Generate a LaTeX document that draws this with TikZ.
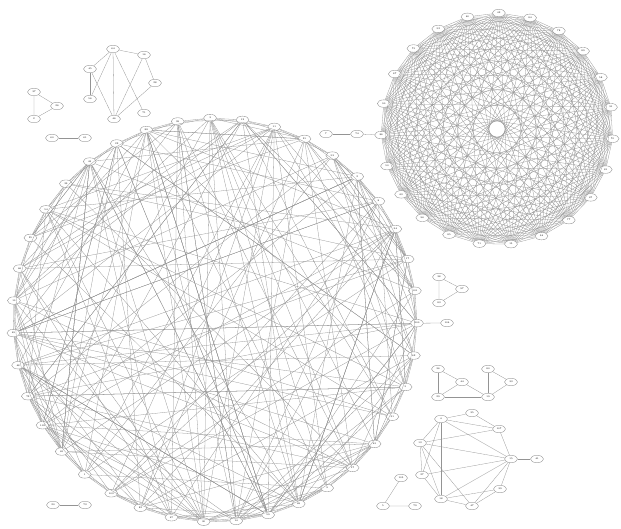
\documentclass[tikz,border=0pt]{standalone}
\usetikzlibrary{shapes.geometric}

\begin{document}
\begin{tikzpicture}[x=1pt,y=-1pt,
  vtx/.style={draw=black!45,fill=white,ellipse,inner sep=0pt,minimum width=13pt,minimum height=7.5pt,line width=0.35pt,font=\fontsize{2.4}{3}\selectfont},
  edge/.style={black!42,line width=0.28pt}]
  \useasboundingbox (0,0) rectangle (621,529);
  % big ring
  \foreach \lab [count=\k from 0] in {3,12,11,21,53,2,8,34,17,101,100,62,5,31,45,57,9,69,59,14,30,47,82,103,1,65,102,72,48,49,10,66,25,54,39,43,22,88,99}
    \node[vtx] (b\k) at ({215+202*cos(91.4-360/39*\k)},{320-202*sin(91.4-360/39*\k)}) {\lab};
  \foreach \k in {0,...,38}{
    \pgfmathtruncatemacro\n{mod(\k+1,39)}
    \pgfmathtruncatemacro\m{mod(\k+2,39)}
    \draw[edge] (b\k) -- (b\n);
    \draw[edge] (b\k) -- (b\m);
  }
  \pgfmathsetseed{31}
  \foreach \i in {1,...,210}{
    \pgfmathtruncatemacro\p{random(0,38)}
    \pgfmathtruncatemacro\q{mod(\p+random(3,19),39)}
    \draw[edge] (b\p) -- (b\q);
  }
  % small ring, every pair joined
  \foreach \lab [count=\k from 0] in {86,90,87,75,52,60,42,84,78,89,58,91,70,81,67,77,94,15,71,85,96,63,50}
    \node[vtx] (s\k) at ({497+116*cos(183-360/23*\k)},{129-116*sin(183-360/23*\k)}) {\lab};
  \foreach \i in {0,...,21}{
    \pgfmathtruncatemacro\n{\i+1}
    \foreach \j in {\n,...,22}
      \draw[edge] (s\i) -- (s\j);
  }
  % chain into small ring
  \node[vtx] (c1) at (326,134) {7};
  \node[vtx] (c2) at (357,134) {74};
  \draw[edge] (c1) -- (c2);
  \draw[edge] (c2) -- (s0);
  % pendant on big ring
  \node[vtx] (q1) at (447,323) {104};
  \draw[edge] (b10) -- (q1);
  % triangle, top left
  \node[vtx] (t1) at (34,92) {37};
  \node[vtx] (t2) at (57,106) {26};
  \node[vtx] (t3) at (34,119) {2};
  \draw[edge] (t1) -- (t2) -- (t3) -- (t1);
  % pair
  \node[vtx] (p1) at (52,138) {60};
  \node[vtx] (p2) at (85,138) {61};
  \draw[edge] (p1) -- (p2);
  % seven nodes
  \node[vtx] (h1) at (113,49) {64};
  \node[vtx] (h2) at (144,55) {16};
  \node[vtx] (h3) at (90,69) {45};
  \node[vtx] (h4) at (155,83) {28};
  \node[vtx] (h5) at (90,99) {56};
  \node[vtx] (h6) at (144,113) {71};
  \node[vtx] (h7) at (114,119) {46};
  \foreach \a/\b in {h1/h2,h1/h3,h1/h5,h1/h7,h1/h6,h2/h4,h2/h7,h4/h7,h3/h5,h3/h7}
    \draw[edge] (\a) -- (\b);
  % triangle, right
  \node[vtx] (r1) at (439,277) {38};
  \node[vtx] (r2) at (462,289) {97};
  \node[vtx] (r3) at (439,303) {83};
  \draw[edge] (r1) -- (r2) -- (r3) -- (r1);
  % six nodes
  \node[vtx] (e1) at (438,369) {36};
  \node[vtx] (e2) at (462,382) {44};
  \node[vtx] (e3) at (438,397) {29};
  \node[vtx] (e4) at (488,397) {19};
  \node[vtx] (e5) at (488,369) {80};
  \node[vtx] (e6) at (511,382) {33};
  \foreach \a/\b in {e1/e2,e2/e4,e1/e3,e3/e2,e3/e4,e5/e4,e5/e6,e6/e4}
    \draw[edge] (\a) -- (\b);
  % ten nodes
  \node[vtx] (g1) at (441,419) {4};
  \node[vtx] (g2) at (472,413) {35};
  \node[vtx] (g3) at (499,429) {107};
  \node[vtx] (g4) at (420,443) {13};
  \node[vtx] (g5) at (511,459) {15};
  \node[vtx] (g6) at (537,459) {41};
  \node[vtx] (g7) at (422,475) {27};
  \node[vtx] (g8) at (500,489) {39};
  \node[vtx] (g9) at (441,499) {18};
  \node[vtx] (g10) at (472,506) {47};
  \foreach \a/\b in {g1/g2,g2/g3,g1/g3,g1/g5,g1/g4,g1/g7,g1/g9,g4/g3,g4/g5,g4/g7,g4/g9,g4/g10,g3/g5,g7/g5,g5/g6,g5/g8,g5/g9,g5/g10,g8/g9,g8/g10,g9/g10,g7/g9}
    \draw[edge] (\a) -- (\b);
  % path of three
  \node[vtx] (u1) at (401,478) {105};
  \node[vtx] (u2) at (383,506) {5};
  \node[vtx] (u3) at (415,506) {79};
  \draw[edge] (u1) -- (u2) -- (u3);
  % pair, bottom left
  \node[vtx] (v1) at (53,505) {20};
  \node[vtx] (v2) at (85,505) {73};
  \draw[edge] (v1) -- (v2);
\end{tikzpicture}
\end{document}
